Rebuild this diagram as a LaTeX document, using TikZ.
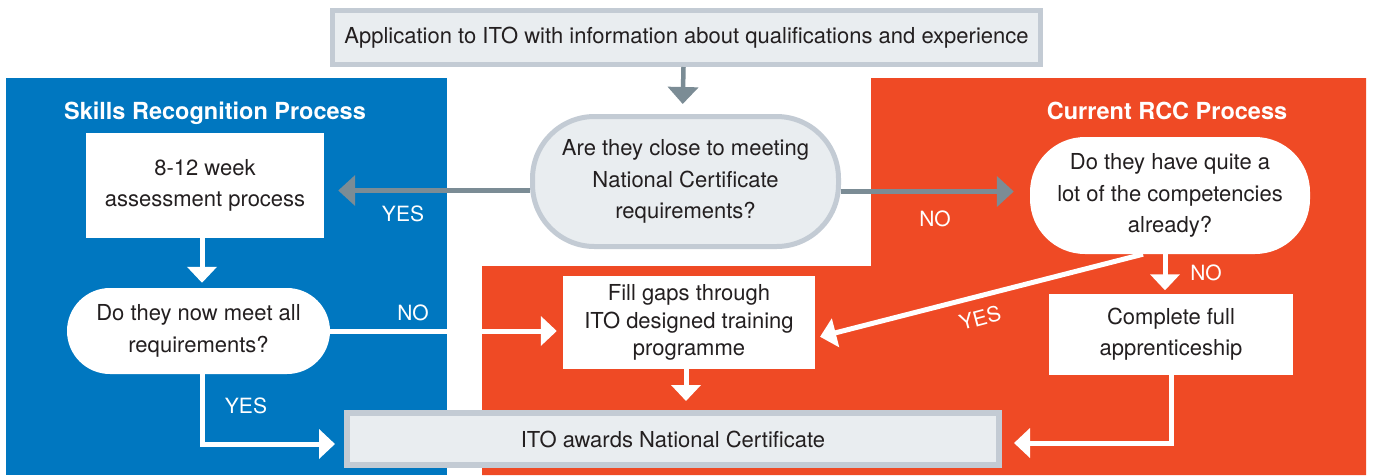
\documentclass[tikz,border=0pt]{standalone}
\usepackage{fontspec}
\setmainfont{TeX Gyre Heros}
\usetikzlibrary{arrows.meta}
\definecolor{skblue}{HTML}{0077C0}
\definecolor{rccred}{HTML}{EF4A25}
\definecolor{bordergray}{HTML}{C3CBD4}
\definecolor{fillgray}{HTML}{E9EDF0}
\definecolor{arrowgray}{HTML}{7B8C95}
\definecolor{ink}{HTML}{231F20}
\begin{document}
\begin{tikzpicture}[x=1pt,y=-1pt,
  txt/.style={font=\fontsize{22}{31.5}\selectfont, text=ink, align=center, inner sep=0pt},
  wbox/.style={txt, fill=white, draw=none, rectangle},
  gbox/.style={txt, fill=fillgray, draw=bordergray, rectangle},
  lbl/.style={font=\fontsize{21}{25}\selectfont, text=white, inner sep=0pt},
  hd/.style={font=\fontsize{23.5}{28}\selectfont\bfseries, text=white, inner sep=0pt, anchor=base},
  garrow/.style={draw=arrowgray, line width=4.5pt, -{Triangle[length=17pt,width=30pt]}},
  warrow/.style={draw=white, line width=5pt, -{Triangle[length=16pt,width=29pt]}}
]
\useasboundingbox (0,0) rectangle (1373,475);
\fill[white] (0,0) rectangle (1373,475);
% regions
\fill[skblue] (6,78) rectangle (447,475);
\fill[rccred] (871,78) -- (1366,78) -- (1366,475) -- (482,475) -- (482,266) -- (871,266) -- cycle;
% headings
\node[hd] (hsk) at (215,119) {Skills Recognition Process};
\node[hd] (hrcc) at (1167,119) {Current RCC Process};
% nodes
\node[gbox, line width=5pt, minimum width=708pt, minimum height=54pt] (app) at (686.5,37.5)
  {Application to ITO with information about qualifications and experience};
\node[gbox, line width=5pt, minimum width=306pt, minimum height=130pt, rounded corners=62pt] (q1) at (685.5,181.5)
  {Are they close to meeting\\National Certificate\\requirements?};
\node[wbox, minimum width=238pt, minimum height=105pt] (assess) at (205,185.5)
  {8-12 week\\assessment process};
\node[wbox, minimum width=263pt, minimum height=86pt, rounded corners=43pt] (q2) at (198.5,331)
  {Do they now meet all\\requirements?};
\node[wbox, minimum width=252pt, minimum height=93pt, font=\fontsize{22}{27.5}\selectfont] (fill) at (689,322.5)
  {Fill gaps through\\ITO designed training\\programme};
\node[wbox, minimum width=280pt, minimum height=117pt, rounded corners=55pt] (q3) at (1170,195.5)
  {Do they have quite a\\lot of the competencies\\already?};
\node[wbox, minimum width=244pt, minimum height=81pt] (full) at (1171,334)
  {Complete full\\apprenticeship};
\node[gbox, line width=6pt, minimum width=652pt, minimum height=52pt] (award) at (673,439)
  {ITO awards National Certificate};
% connectors
\draw[garrow, shorten >=10pt] ([xshift=-3pt]app.south) -- ([xshift=-3pt]q1.north);
\coordinate (q1l) at ([yshift=-9pt]q1.west);
\coordinate (q1r) at ([yshift=-10pt]q1.east);
\draw[garrow, shorten >=14pt] (q1l) -- (q1l -| assess.east);
\draw[garrow, shorten >=16pt] (q1r) -- (q1r -| q3.west);
\draw[warrow, shorten >=5pt] (assess.south -| 202,0) -- (q2.north -| 202,0);
\draw[warrow, shorten >=6pt] (q2.east) -- (q2.east -| fill.west);
\coordinate (yl) at (202,444);
\draw[warrow, shorten >=9pt] (q2.south -| yl) -- (yl) -- (yl -| award.west);
\draw[warrow, shorten >=9pt] (fill.south -| 686,0) -- (award.north -| 686,0);
\draw[warrow, shorten >=3pt] (q3.south -| 1165,0) -- (full.north -| 1165,0);
\coordinate (nr) at (1171,443);
\draw[warrow, shorten >=12pt] (full.south -| nr) -- (nr) -- (nr -| award.east);
\coordinate (dy0) at ([xshift=-27pt]q3.south);
\coordinate (dy1) at ([yshift=-15.5pt]fill.east);
\draw[warrow, shorten >=5pt] (dy0) -- (dy1);
% labels
\node[lbl] (l1) at (403,214) {YES};
\node[lbl] (l2) at (935,219) {NO};
\node[lbl] (l3) at (413,313) {NO};
\node[lbl] (l4) at (246,406) {YES};
\node[lbl] (l5) at (1206,273) {NO};
\node[lbl, rotate=15] (l6) at (980,318) {YES};
\end{tikzpicture}
\end{document}
